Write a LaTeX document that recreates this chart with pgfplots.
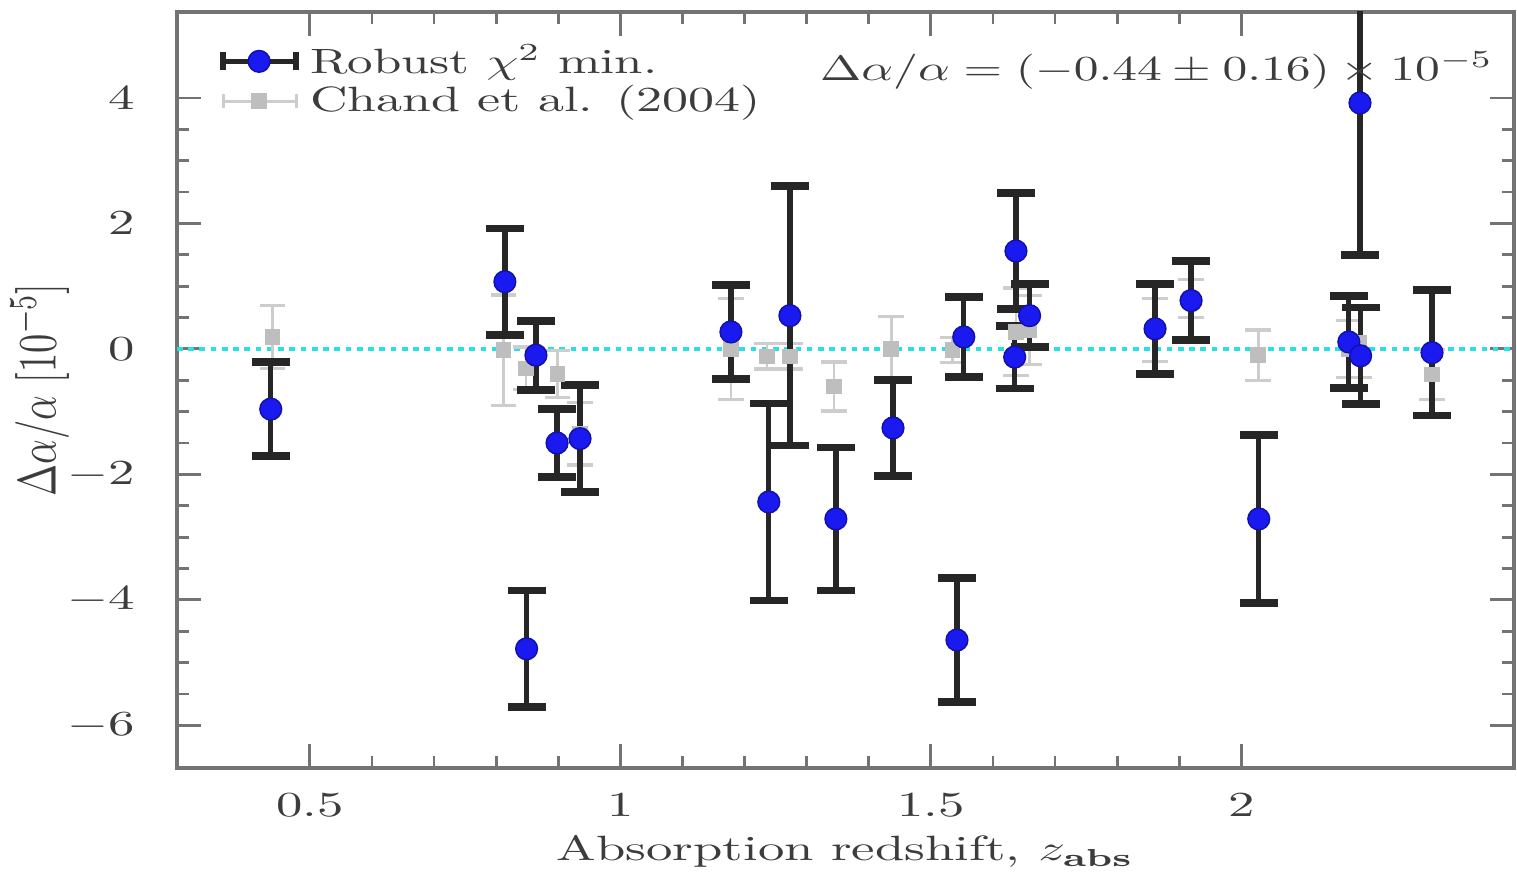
\documentclass[border=0pt]{standalone}
\usepackage{graphicx}
\usepackage{pgfplots}
\usepackage{pgfplotstable}
\pgfplotsset{compat=1.18}
\definecolor{axisgray}{RGB}{115,115,115}
\definecolor{txtgray}{RGB}{60,60,60}
\definecolor{ptblue}{RGB}{25,25,240}
\definecolor{chandfill}{RGB}{190,190,190}
\definecolor{chandbar}{RGB}{205,205,205}
\definecolor{zerocyan}{RGB}{40,225,230}

\pgfplotstableread{
z y e
0.437 -0.96 0.75
0.814 1.07 0.85
0.849 -4.78 0.93
0.864 -0.10 0.55
0.898 -1.50 0.54
0.935 -1.43 0.85
1.178 0.27 0.75
1.239 -2.44 1.57
1.273 0.53 2.07
1.347 -2.71 1.14
1.439 -1.26 0.77
1.542 -4.64 0.99
1.553 0.19 0.64
1.635 -0.13 0.50
1.637 1.56 0.92
1.659 0.53 0.50
1.861 0.32 0.72
1.919 0.77 0.63
2.028 -2.71 1.34
2.173 0.11 0.73
2.191 3.92 2.42
2.192 -0.11 0.77
2.307 -0.06 1.00
}\robust

\pgfplotstableread{
z y e
0.440 0.19 0.50
0.812 -0.02 0.88
0.848 -0.31 0.34
0.899 -0.40 0.37
0.935 -1.35 0.50
1.178 0.00 0.80
1.236 -0.12 0.20
1.273 -0.12 0.20
1.344 -0.60 0.39
1.436 0.00 0.51
1.535 -0.02 0.20
1.637 0.27 0.70
1.659 0.30 0.55
1.861 0.30 0.50
1.919 0.80 0.30
2.027 -0.10 0.40
2.173 0.00 0.45
2.190 0.10 0.55
2.307 -0.41 0.40
}\chand

\begin{document}
\begin{tikzpicture}
\useasboundingbox (-1.77cm,-1.14cm) rectangle (13.40cm,7.68cm);
\begin{axis}[
  scale only axis,
  width=13.37cm, height=7.56cm,
  xmin=0.286, xmax=2.439,
  ymin=-6.68, ymax=5.37,
  xtick={0.5,1,1.5,2},
  xticklabels={0.5,1,1.5,2},
  ytick={-6,-4,-2,0,2,4},
  minor x tick num=4,
  minor y tick num=3,
  tick align=inside,
  xtick pos=both, ytick pos=both,
  major tick length=2.4mm,
  minor tick length=1.2mm,
  axis line style={axisgray, line width=0.9pt},
  every tick/.style={axisgray, line width=0.8pt},
  every tick label/.append style={txtgray, font=\fontsize{10}{12}\selectfont, xscale=1.5},
  xticklabel style={yshift=-1.3mm},
  yticklabel style={xshift=-1.6mm},
  xlabel={\scalebox{1.5}[1]{Absorption redshift, $z_{\mathbf{abs}}$}},
  xlabel style={txtgray, font=\fontsize{10}{12}\selectfont},
  xlabel shift=-0.6mm,
  ylabel={\scalebox{1}[1.4]{$\Delta\alpha/\alpha\ [10^{-5}]$}},
  ylabel style={txtgray, font=\fontsize{11}{13}\selectfont},
  ylabel shift=-3.2mm,
  legend style={at={(0.032,0.965)}, anchor=north west, draw=none, fill=none,
    inner sep=0pt, row sep=-1pt, font=\fontsize{10}{12}\selectfont,
    text=txtgray, nodes={inner sep=1.5pt}},
  legend cell align=left,
  clip=true,
]
% zero line
\addplot[zerocyan, line width=1.3pt, dash pattern=on 1.6pt off 1.6pt, forget plot]
  coordinates {(0.286,0) (2.439,0)};

% Chand et al. (2004)
\addplot[forget plot, only marks, mark=square*, mark size=2pt,
  mark options={fill=chandfill, draw=chandfill},
  error bars/.cd, y dir=both, y explicit, error mark=|,
  error bar style={chandbar, line width=0.8pt},
  error mark options={chandbar, line width=0.9pt, mark size=3.6pt}]
  table[x=z, y=y, y error=e] {\chand};

% Robust chi2
\addplot[forget plot, only marks, mark=*, mark size=3.1pt,
  mark options={fill=ptblue, draw=ptblue!70!black, line width=0.4pt},
  error bars/.cd, y dir=both, y explicit, error mark=|,
  error bar style={black!85, line width=1.5pt},
  error mark options={black!85, line width=2.2pt, mark size=5.4pt}]
  table[x=z, y=y, y error=e] {\robust};

\addlegendimage{legend image code/.code={
  \draw[black!85, line width=1.5pt] (0cm,0cm) -- (0.73cm,0cm);
  \draw[black!85, line width=1.5pt] (0cm,-0.09cm) -- (0cm,0.09cm);
  \draw[black!85, line width=1.5pt] (0.73cm,-0.09cm) -- (0.73cm,0.09cm);
  \fill[ptblue, draw=ptblue!70!black, line width=0.4pt] (0.36cm,0cm) circle (3.1pt);
}}
\addlegendentry{\hspace{0.6mm}\scalebox{1.45}[1]{Robust $\chi^{2}$ min.}}
\addlegendimage{legend image code/.code={
  \draw[chandbar, line width=0.9pt] (0cm,0cm) -- (0.73cm,0cm);
  \draw[chandbar, line width=0.9pt] (0cm,-0.07cm) -- (0cm,0.07cm);
  \draw[chandbar, line width=0.9pt] (0.73cm,-0.07cm) -- (0.73cm,0.07cm);
  \fill[chandfill] (0.29cm,-0.07cm) rectangle (0.43cm,0.07cm);
}}
\addlegendentry{\hspace{0.6mm}\scalebox{1.48}[1]{Chand et al. (2004)}}

\node[anchor=east, text=txtgray, font=\fontsize{10}{12}\selectfont, inner sep=0pt]
  at (rel axis cs:0.985,0.923)
  {\scalebox{1.41}[1]{$\Delta\alpha/\alpha = (-0.44 \pm 0.16) \times 10^{-5}$}};
\end{axis}
\end{tikzpicture}
\end{document}
